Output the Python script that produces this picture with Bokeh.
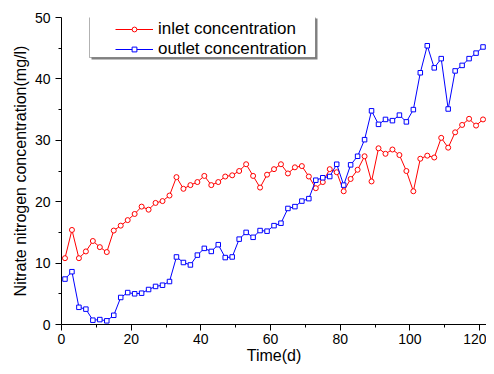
from bokeh.plotting import figure
from bokeh.models import Legend, LegendItem, BoxAnnotation, Range1d, FixedTicker
from bokeh.embed import file_html
from bokeh.resources import INLINE

days = [1, 3, 5, 7, 9, 11, 13, 15, 17, 19, 21, 23, 25, 27, 29, 31, 33, 35, 37, 39,
        41, 43, 45, 47, 49, 51, 53, 55, 57, 59, 61, 63, 65, 67, 69, 71, 73, 75, 77, 79,
        81, 83, 85, 87, 89, 91, 93, 95, 97, 99, 101, 103, 105, 107, 109, 111, 113, 115,
        117, 119, 121]

inlet = [10.8, 15.4, 10.8, 11.9, 13.6, 12.6, 11.8, 15.3, 16.1, 17.0, 18.0, 19.2, 18.7,
         19.8, 20.1, 21.0, 24.0, 22.1, 22.7, 23.2, 24.2, 22.7, 23.2, 24.1, 24.3, 25.0,
         26.1, 24.2, 22.3, 24.4, 25.3, 26.1, 24.6, 25.6, 25.8, 24.1, 22.2, 23.2, 25.3,
         24.8, 21.7, 23.7, 25.2, 27.4, 23.3, 28.7, 27.8, 28.5, 27.6, 25.0, 21.7, 27.0,
         27.5, 27.2, 30.4, 28.8, 31.3, 32.5, 33.5, 32.4, 33.4]

outlet = [7.4, 8.6, 2.8, 2.5, 0.7, 0.8, 0.6, 1.5, 4.4, 5.2, 5.0, 5.1, 5.7, 6.2, 6.4, 7.0,
          11.0, 10.1, 9.7, 11.3, 12.4, 11.9, 13.0, 10.9, 11.0, 13.9, 15.0, 14.2, 15.3,
          15.2, 16.1, 16.5, 18.9, 19.2, 20.1, 20.5, 23.5, 23.9, 24.1, 26.1, 22.7, 26.0,
          27.4, 30.1, 34.8, 32.6, 33.4, 33.2, 34.1, 33.0, 35.0, 41.0, 45.4, 41.8, 43.3,
          35.1, 41.3, 42.2, 43.3, 44.2, 45.2]

x_ticks = [0, 20, 40, 60, 80, 100, 120]
x_minor = [10, 30, 50, 70, 90, 110]
y_ticks = [0, 10, 20, 30, 40, 50]
y_minor = [5, 15, 25, 35, 45]

FONT = "Liberation Sans"

p = figure(width=486, height=366, output_backend="svg", toolbar_location=None,
           x_range=Range1d(0, 122), y_range=Range1d(0, 50),
           min_border_left=61, min_border_right=0, min_border_top=17,
           min_border_bottom=39)
p.outline_line_color = None
p.xgrid.visible = False
p.ygrid.visible = False
p.background_fill_color = "white"
p.border_fill_color = "white"

p.xaxis.ticker = FixedTicker(ticks=x_ticks, minor_ticks=x_minor)
p.yaxis.ticker = FixedTicker(ticks=y_ticks, minor_ticks=y_minor)
p.xaxis.axis_label = "Time(d)"
p.yaxis.axis_label = "Nitrate nitrogen concentration(mg/l)"

for ax in (p.xaxis[0], p.yaxis[0]):
    ax.axis_line_color = "black"
    ax.axis_line_width = 1
    ax.major_tick_line_color = "black"
    ax.minor_tick_line_color = "black"
    ax.major_tick_in = 0
    ax.major_tick_out = 6
    ax.minor_tick_in = 0
    ax.minor_tick_out = 3
    ax.major_label_text_font = FONT
    ax.major_label_text_font_size = "14px"
    ax.major_label_text_color = "black"
    ax.axis_label_text_font = FONT
    ax.axis_label_text_font_size = "16px"
    ax.axis_label_text_font_style = "normal"
    ax.axis_label_text_color = "black"

p.xaxis.major_label_standoff = 3
p.xaxis.axis_label_standoff = 0
p.yaxis.major_label_standoff = 5
p.yaxis.axis_label_standoff = 3

r1l = p.line(days, inlet, line_color="#FF0000", line_width=1)
r1s = p.scatter(days, inlet, marker="circle", size=5, line_color="#FF0000",
                fill_color="white", line_width=1)
r2l = p.line(days, outlet, line_color="#0000FF", line_width=1)
r2s = p.scatter(days, outlet, marker="square", size=4.5, line_color="#0000FF",
                fill_color="white", line_width=1)

shadow = BoxAnnotation(left=91, right=317, top=18, bottom=59,
                       left_units="canvas", right_units="canvas",
                       top_units="canvas", bottom_units="canvas",
                       fill_color="#808080", fill_alpha=1, line_color=None)
box = BoxAnnotation(left=89, right=315, top=16, bottom=57,
                    left_units="canvas", right_units="canvas",
                    top_units="canvas", bottom_units="canvas",
                    fill_color="white", fill_alpha=1, line_color="black",
                    line_width=1)
p.add_layout(shadow)
p.add_layout(box)

legend = Legend(items=[LegendItem(label="inlet concentration", renderers=[r1l, r1s]),
                       LegendItem(label="outlet concentration", renderers=[r2l, r2s])],
                location=(54, 265), padding=0, spacing=0, margin=0,
                glyph_width=38, glyph_height=12, label_height=20, label_standoff=5,
                label_text_font=FONT, label_text_font_size="17px",
                label_text_color="black",
                border_line_color=None, background_fill_alpha=0)
p.add_layout(legend)

open("out.html", "w").write(file_html(p, INLINE))
